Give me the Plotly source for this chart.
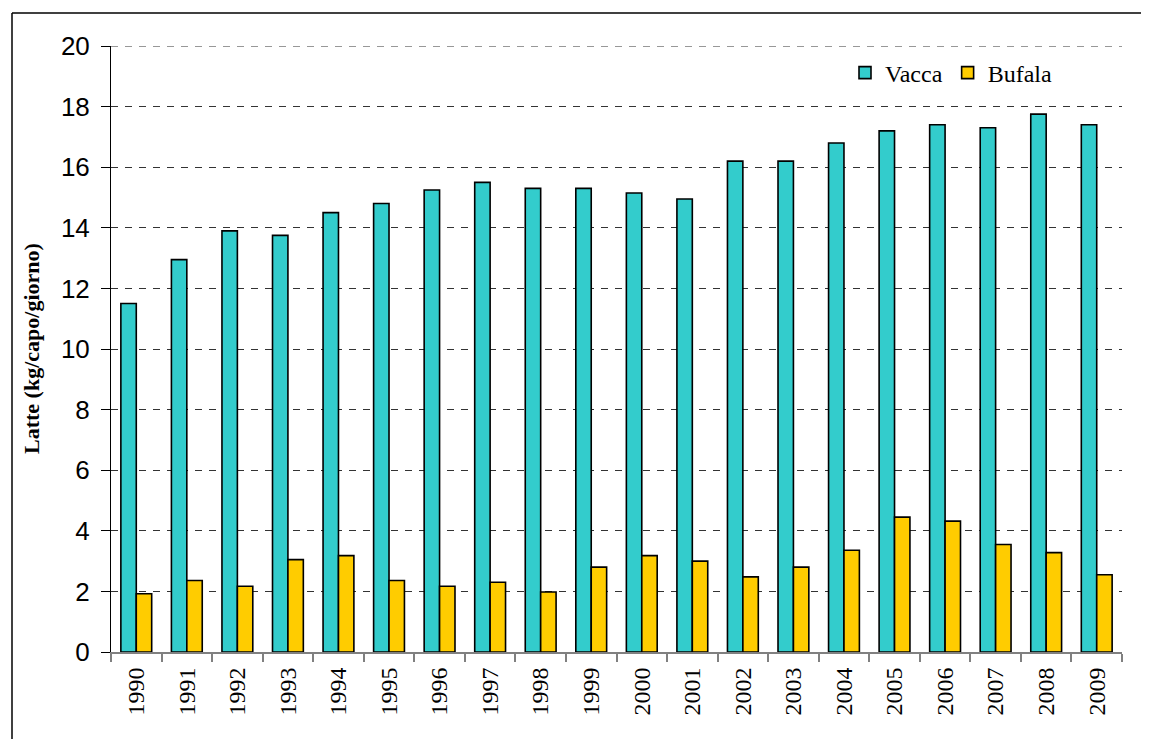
import plotly.graph_objects as go

years = [str(y) for y in range(1990, 2010)]
vacca = [11.5, 12.95, 13.9, 13.75, 14.5, 14.8, 15.25, 15.5, 15.3, 15.3,
         15.15, 14.95, 16.2, 16.2, 16.8, 17.2, 17.4, 17.3, 17.75, 17.4]
bufala = [1.92, 2.36, 2.17, 3.05, 3.18, 2.36, 2.17, 2.3, 1.98, 2.8,
          3.18, 3.0, 2.48, 2.8, 3.36, 4.45, 4.32, 3.55, 3.28, 2.55]
y_max = 20

OFF = 8  # browser body margin
W, H = 1149 - 2 * OFF, 747 - 2 * OFF
L, T = 111 - OFF, 46 - OFF
R = W - (1122 - OFF)
B = H - (652 - OFF)
pw, ph = W - L - R, H - T - B


def px_x(p):
    return (p - OFF - L) / pw


def px_y(p):
    return (H + OFF - B - p) / ph


fig = go.Figure()
fig.add_trace(go.Bar(x=years, y=vacca, name="Vacca",
                     marker=dict(color="#33CCCC", line=dict(color="black", width=1.6))))
fig.add_trace(go.Bar(x=years, y=bufala, name="Bufala",
                     marker=dict(color="#FFCC00", line=dict(color="black", width=1.6))))

fig.update_layout(
    width=W, height=H, autosize=False,
    margin=dict(l=L, r=R, t=T, b=B, pad=0),
    paper_bgcolor="white", plot_bgcolor="white",
    barmode="group", bargap=0.39, bargroupgap=0,
    showlegend=True,
    legend=dict(orientation="h", x=px_x(845), y=px_y(73), xanchor="left", yanchor="middle",
                font=dict(family="Liberation Serif", size=24, color="black"),
                bgcolor="rgba(0,0,0,0)", itemwidth=30, tracegroupgap=0),
    xaxis=dict(type="category", tickson="boundaries", ticks="outside", ticklen=8,
               tickcolor="#808080", tickwidth=1.5, showline=True, linecolor="#808080",
               linewidth=2, tickangle=-90, showgrid=False, ticklabelstandoff=4,
               tickfont=dict(family="Liberation Serif", size=24, color="black")),
    yaxis=dict(range=[0, y_max], dtick=2, tick0=0, showgrid=True, griddash="7px,7px",
               gridcolor="#333333", gridwidth=1, ticks="outside", ticklen=9,
               tickcolor="black", showline=True, linecolor="black", linewidth=1,
               zeroline=False, ticklabelstandoff=6,
               tickfont=dict(family="Liberation Sans", size=26, color="black")),
    annotations=[dict(text="<b>Latte (kg/capo/giorno)</b>", xref="paper", yref="paper",
                      x=px_x(31), y=px_y(349), textangle=-90, showarrow=False,
                      xanchor="center", yanchor="middle",
                      font=dict(family="Liberation Serif", size=22, color="black"))],
    shapes=[
        dict(type="line", xref="paper", yref="y", x0=0, x1=1, y0=y_max, y1=y_max,
             line=dict(color="#333333", width=1, dash="7px,7px"), layer="below"),
        dict(type="line", xref="paper", yref="paper", x0=px_x(12), x1=px_x(1170),
             y0=px_y(13), y1=px_y(13), line=dict(color="black", width=1.5)),
        dict(type="line", xref="paper", yref="paper", x0=px_x(12), x1=px_x(12),
             y0=px_y(13), y1=px_y(770), line=dict(color="black", width=1.5)),
    ],
)

fig.write_html("out.html")
